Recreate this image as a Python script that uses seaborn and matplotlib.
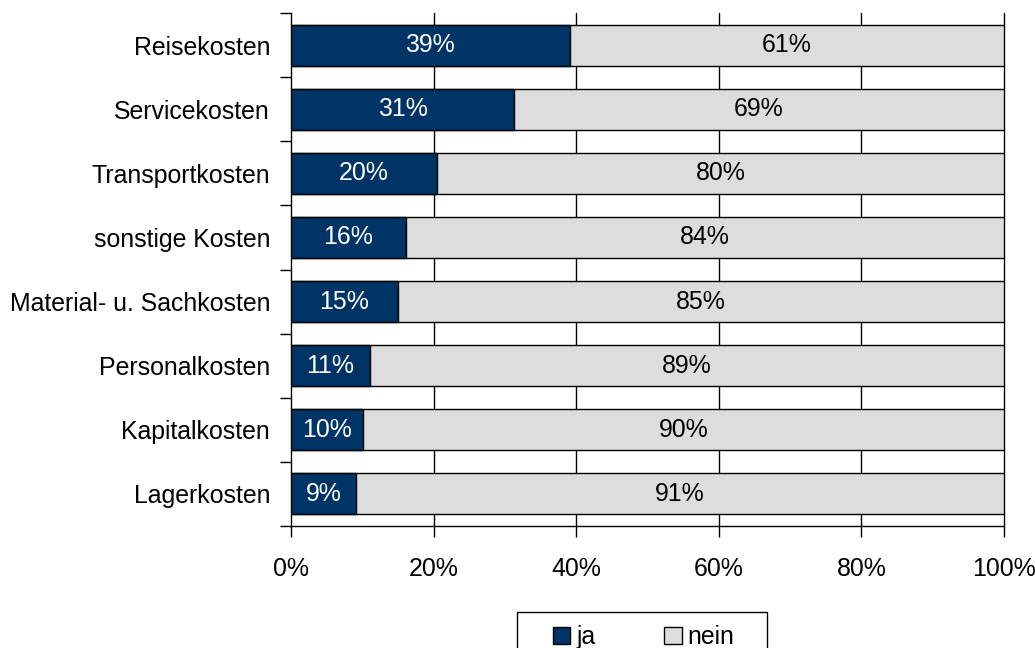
import matplotlib
matplotlib.use("Agg")
import matplotlib.pyplot as plt
import seaborn as sns
import pandas as pd
from matplotlib.patches import Patch, Rectangle
from matplotlib.ticker import FuncFormatter, FixedLocator

categories = ["Reisekosten", "Servicekosten", "Transportkosten", "sonstige Kosten",
              "Material- u. Sachkosten", "Personalkosten", "Kapitalkosten", "Lagerkosten"]
ja = [39.1, 31.3, 20.5, 16.1, 15.0, 11.1, 10.1, 9.1]
nein = [100 - v for v in ja]
ja_labels = ["39%", "31%", "20%", "16%", "15%", "11%", "10%", "9%"]
nein_labels = ["61%", "69%", "80%", "84%", "85%", "89%", "90%", "91%"]
series_names = ["ja", "nein"]
xticks = [0, 20, 40, 60, 80, 100]

sns.set_theme(style="white")
plt.rcParams['font.family'] = ['Liberation Sans', 'DejaVu Sans']
plt.rcParams['text.color'] = 'black'

FS = 17.9
blue = "#003366"
grey = "#DDDDDD"

df = pd.DataFrame({"cat": categories, "ja": ja, "nein": nein})
df["total"] = df["ja"] + df["nein"]

fig = plt.figure(figsize=(10.35, 6.48), dpi=100)
ax = fig.add_axes([291/1035, 1-526/648, (1004-291)/1035, (526-13)/648])

sns.barplot(data=df, y="cat", x="total", color=grey, edgecolor="black", linewidth=1,
            width=0.64, orient="h", ax=ax, saturation=1, zorder=3)
sns.barplot(data=df, y="cat", x="ja", color=blue, edgecolor="black", linewidth=1,
            width=0.64, orient="h", ax=ax, saturation=1, zorder=4)

for i, (j, n) in enumerate(zip(ja, nein)):
    ax.text(j / 2, i, ja_labels[i], ha="center", va="center", color="white", fontsize=FS, zorder=5)
    ax.text(j + n / 2, i, nein_labels[i], ha="center", va="center", color="black", fontsize=FS, zorder=5)

ax.set_xlim(0, 100)
ax.set_ylim(len(categories) - 0.5, -0.5)
ax.xaxis.set_major_locator(FixedLocator(xticks))
ax.xaxis.set_major_formatter(FuncFormatter(lambda v, p: f"{int(v)}%"))
ax.yaxis.set_major_locator(FixedLocator(range(len(categories))))
ax.set_yticklabels(categories)
ax.yaxis.set_minor_locator(FixedLocator([i - 0.5 for i in range(len(categories) + 1)]))
ax.set_xlabel("")
ax.set_ylabel("")

for xv in xticks[1:]:
    ax.axvline(xv, color="black", linewidth=1, zorder=1, clip_on=False)
for s in ["top", "right"]:
    ax.spines[s].set_visible(False)
for s in ["left", "bottom"]:
    ax.spines[s].set_color("black")
    ax.spines[s].set_linewidth(1)

ax.tick_params(axis="y", which="major", length=0, labelsize=FS, pad=15, colors="black")
ax.tick_params(axis="y", which="minor", left=True, length=8, width=1, color="black")
ax.tick_params(axis="x", which="major", bottom=True, length=8, width=1, labelsize=FS, pad=14, colors="black")

# legend box frame
fig.add_artist(Rectangle((517/1035, 1-660/648), 250/1035, 48/648, transform=fig.transFigure,
                         facecolor="white", edgecolor="black", linewidth=1, zorder=1))

handles = [Patch(facecolor=blue, edgecolor="black", label=series_names[0]),
           Patch(facecolor=grey, edgecolor="black", label=series_names[1])]
leg = fig.legend(handles=handles, loc="center left", bbox_to_anchor=(553/1035, 1-637/648),
                 ncol=2, frameon=False, fontsize=FS, handlelength=0.7, handleheight=0.7,
                 handletextpad=0.25, columnspacing=2.75, borderpad=0, borderaxespad=0,
                 labelcolor="black")
leg.set_zorder(2)

fig.savefig("out.png", dpi=100)
